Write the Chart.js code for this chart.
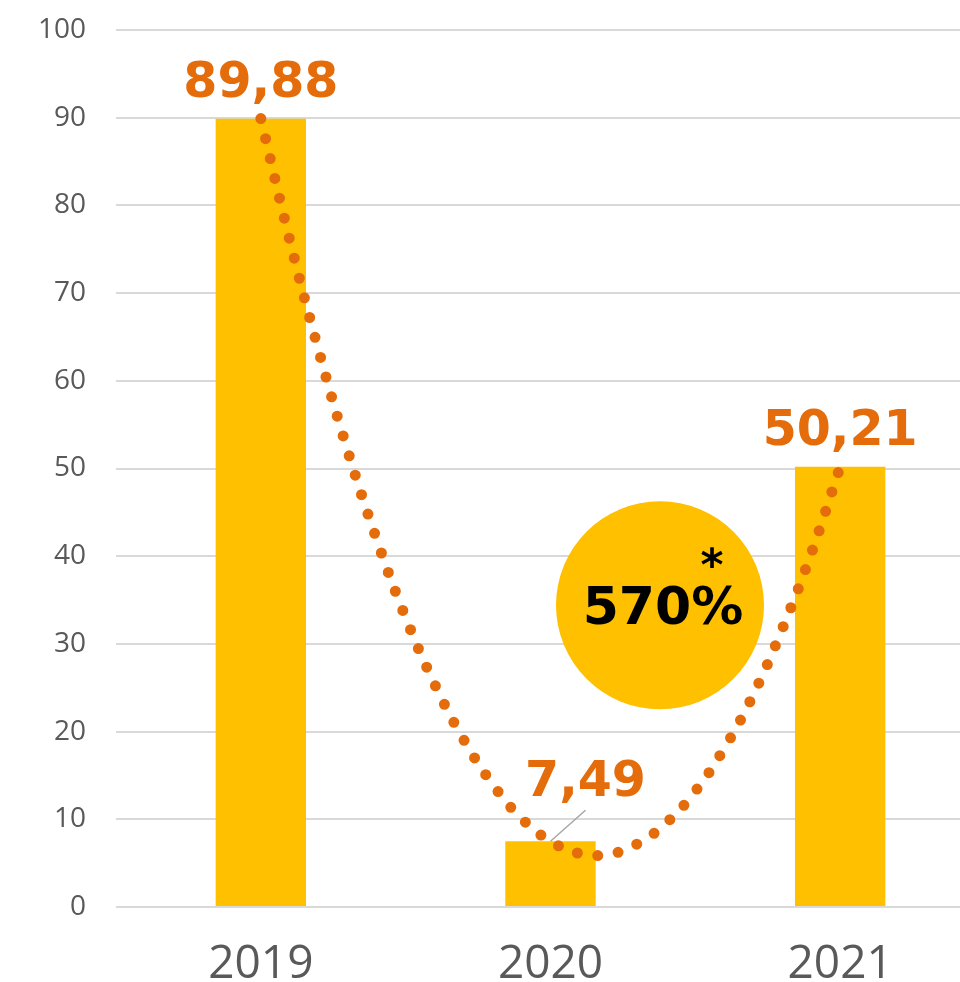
<!DOCTYPE html>
<html>
<head>
<meta charset="utf-8">
<script src="https://cdn.jsdelivr.net/npm/chart.js@4.4.1/dist/chart.umd.min.js"></script>
<style>
  html, body { margin: 0; padding: 0; background: #fff; }
  #wrap { width: 960px; height: 982px; overflow: hidden; position: relative; }
  canvas { display: block; }
</style>
</head>
<body>
<div id="wrap"><canvas id="c" width="1000" height="982"></canvas></div>
<script>
// ---- data ----
const categories = ['2019', '2020', '2021'];
const barValues = [89.88, 7.49, 50.21];
const yTicks = [0, 10, 20, 30, 40, 50, 60, 70, 80, 90, 100];
// polynomial trend line (x in category units)
const trendX = [0, 0.1, 0.2, 0.3, 0.4, 0.5, 0.6, 0.7, 0.8, 0.9, 1.0, 1.1, 1.2, 1.3, 1.4, 1.5, 1.6, 1.7, 1.8, 1.9, 2.0];
const trendY = [89.9, 76.0, 63.4, 52.0, 41.9, 33.0, 25.4, 19.1, 14.0, 10.1, 7.5, 6.1, 6.0, 7.2, 9.6, 13.2, 18.1, 24.2, 31.7, 40.3, 50.2];
const badgeText = '570%';
const badgeMark = '*';

const ORANGE = '#E46C0A';
const GOLD = '#FFC000';
const GRAY = '#595959';

const labelPlugin = {
  id: 'labels',
  afterDatasetsDraw(chart) {
    const ctx = chart.ctx;
    const meta = chart.getDatasetMeta(1);
    ctx.save();
    ctx.font = 'bold 49px "DejaVu Sans"';
    ctx.fillStyle = ORANGE;
    ctx.textAlign = 'center';
    ctx.textBaseline = 'alphabetic';
    meta.data.forEach((bar, i) => {
      const txt = barValues[i].toFixed(2).replace('.', ',');
      if (i === 1) {
        ctx.strokeStyle = '#A6A6A6';
        ctx.lineWidth = 1.5;
        ctx.beginPath();
        ctx.moveTo(bar.x, bar.y);
        ctx.lineTo(bar.x + 35, bar.y - 31);
        ctx.stroke();
        ctx.fillText(txt, bar.x + 35, bar.y - 45);
      } else {
        ctx.fillText(txt, bar.x, bar.y - 22);
      }
    });
    ctx.restore();
  }
};

const badgePlugin = {
  id: 'badge',
  afterDraw(chart) {
    const ctx = chart.ctx;
    const xs = chart.scales.xt, ys = chart.scales.y;
    const cx = xs.getPixelForValue(1.378);
    const cy = ys.getPixelForValue(34.4);
    ctx.save();
    ctx.fillStyle = GOLD;
    ctx.beginPath();
    ctx.arc(cx, cy, 104, 0, Math.PI * 2);
    ctx.fill();
    ctx.fillStyle = '#000';
    ctx.font = 'bold 52px "DejaVu Sans"';
    ctx.textAlign = 'center';
    ctx.textBaseline = 'alphabetic';
    ctx.fillText(badgeText, cx + 3, cy + 19);
    ctx.font = 'bold 44px "DejaVu Sans"';
    ctx.fillText(badgeMark, cx + 52, cy - 25);
    ctx.restore();
  }
};

new Chart(document.getElementById('c'), {
  type: 'bar',
  data: {
    labels: categories,
    datasets: [
      {
        type: 'line',
        data: trendX.map((x, i) => ({ x: x, y: trendY[i] })),
        xAxisID: 'xt',
        borderColor: ORANGE,
        borderWidth: 11,
        borderDash: [0, 20.5],
        borderCapStyle: 'round',
        pointRadius: 0,
        tension: 0.4,
        fill: false,
        order: 0
      },
      {
        type: 'bar',
        data: barValues,
        xAxisID: 'x',
        backgroundColor: GOLD,
        grouped: false,
        barPercentage: 0.624,
        categoryPercentage: 0.5,
        order: 1
      }
    ]
  },
  options: {
    responsive: false,
    animation: false,
    layout: { padding: { top: 30, right: 15, left: 0, bottom: 0 } },
    plugins: { legend: { display: false }, tooltip: { enabled: false } },
    scales: {
      x: {
        type: 'category',
        grid: { display: false, drawTicks: false },
        border: { display: false },
        ticks: { color: GRAY, font: { family: '"Open Sans"', size: 46 }, padding: 30 },
        afterFit(s) { s.height = 75; }
      },
      xt: {
        type: 'linear',
        display: false,
        offset: false,
        grid: { offset: false },
        min: -0.5,
        max: 2.5
      },
      y: {
        min: 0,
        max: 100,
        afterBuildTicks(s) { s.ticks = yTicks.map(v => ({ value: v })); },
        grid: { color: '#D9D9D9', lineWidth: 2, drawTicks: false },
        border: { display: false },
        ticks: { color: GRAY, font: { family: '"Open Sans"', size: 28 }, padding: 30 },
        afterFit(s) { s.width = 116; s.paddingTop = 0; s.paddingBottom = 0; }
      }
    }
  },
  plugins: [labelPlugin, badgePlugin]
});
</script>
</body>
</html>
